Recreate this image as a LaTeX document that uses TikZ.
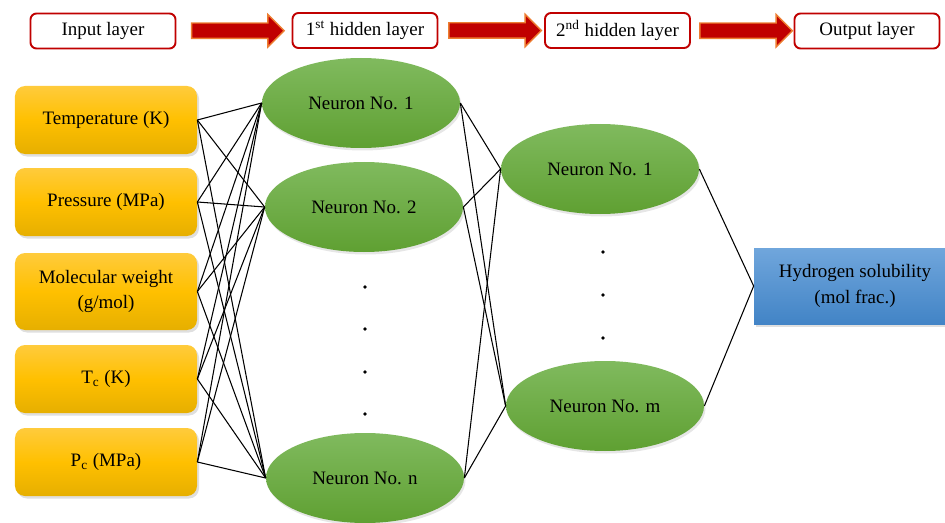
\documentclass[tikz,border=0pt]{standalone}
\usepackage{fontspec}
\setmainfont{Liberation Serif}
\usepackage{xcolor}
\usepackage{tikz}
\usetikzlibrary{positioning, shapes.geometric, shapes.arrows, shadows}
\definecolor{hdRed}{RGB}{192, 0, 0}
\definecolor{hdOrange}{RGB}{237, 125, 49}
\definecolor{inTop}{RGB}{255, 203, 60}
\definecolor{inMid}{RGB}{255, 192, 0}
\definecolor{inBot}{RGB}{230, 175, 0}
\definecolor{nrTop}{RGB}{128, 186, 94}
\definecolor{nrBot}{RGB}{95, 160, 50}
\definecolor{outTop}{RGB}{112, 166, 220}
\definecolor{outBot}{RGB}{66, 132, 198}
\tikzset{
    base/.style={
        font=\fontsize{10.8}{12.5}\selectfont,
        align=center,
        text=black
    },
    header/.style={
        base,
        rectangle,
        rounded corners=1.2mm,
        draw=hdRed,
        line width=1.1pt,
        fill=white,
        minimum width=2.9cm,
        minimum height=0.7cm,
        inner sep=1pt
    },
    blockarrow/.style={
        single arrow,
        draw=hdOrange,
        fill=hdRed,
        line width=0.8pt,
        minimum height=1.85cm,
        minimum width=0.64cm,
        single arrow head extend=0.17cm,
        inner xsep=0pt,
        inner ysep=0.14cm
    },
    inbox/.style={
        base,
        rectangle,
        rounded corners=2mm,
        top color=inTop,
        bottom color=inBot,
        middle color=inMid,
        minimum width=3.64cm,
        minimum height=1.36cm,
        drop shadow={opacity=0.25, shadow xshift=0.4mm, shadow yshift=-0.5mm}
    },
    neuron/.style={
        base,
        ellipse,
        top color=nrTop,
        bottom color=nrBot,
        minimum width=3.96cm,
        minimum height=1.8cm,
        drop shadow={opacity=0.2, shadow xshift=0.3mm, shadow yshift=-0.5mm}
    },
    outbox/.style={
        base,
        rectangle,
        top color=outTop,
        bottom color=outBot,
        minimum width=4.04cm,
        minimum height=1.52cm,
        drop shadow={opacity=0.25, shadow xshift=0.4mm, shadow yshift=-0.5mm}
    },
    link/.style={
        draw=black,
        line width=0.6pt
    },
    dotmark/.style={
        circle,
        fill=black,
        inner sep=0pt,
        minimum size=2.2pt
    }
}

\begin{document}
\begin{tikzpicture}
    \useasboundingbox (0,0) rectangle (18.9,10.44);

    % Layer headers
    \node[header] (inlay) at (2.06, 9.82) {Input layer};
    \node[header] (hidA) at (7.30, 9.83) {1\textsuperscript{st} hidden layer};
    \node[header] (hidB) at (12.35, 9.83) {2\textsuperscript{nd} hidden layer};
    \node[header] (outlay) at (17.34, 9.82) {Output layer};
    \path (inlay) -- node[blockarrow] (arrA) {} (hidA);
    \path (hidA) -- node[blockarrow] (arrB) {} (hidB);
    \path (hidB) -- node[blockarrow] (arrC) {} (outlay);

    % Inputs
    \node[inbox] (temp) at (2.12, 8.04) {Temperature (K)};
    \node[inbox] (pres) at (2.12, 6.40) {Pressure (MPa)};
    \node[inbox, minimum height=1.54cm] (molw) at (2.12, 4.61) {Molecular weight\\[2pt](g/mol)};
    \node[inbox] (crt) at (2.12, 2.86) {T\textsubscript{c} (K)};
    \node[inbox] (crp) at (2.12, 1.20) {P\textsubscript{c} (MPa)};

    % First hidden layer
    \node[neuron] (ha) at (7.22, 8.38) {Neuron No. 1};
    \node[neuron] (hb) at (7.28, 6.30) {Neuron No. 2};
    \node[neuron] (hn) at (7.30, 0.88) {Neuron No. n};
    \foreach \y [count=\k] in {4.70, 3.86, 3.00, 2.16}
        \node[dotmark] (da\k) at (7.30, \y) {};

    % Second hidden layer
    \node[neuron] (ga) at (12.00, 7.06) {Neuron No. 1};
    \node[neuron] (gm) at (12.10, 2.32) {Neuron No. m};
    \foreach \y [count=\k] in {5.40, 4.54, 3.68}
        \node[dotmark] (db\k) at (12.06, \y) {};

    % Output
    \node[outbox] (sol) at (17.10, 4.72) {Hydrogen solubility\\[2pt](mol frac.)};

    % Connections
    \foreach \i in {temp, pres, molw, crt, crp} {
        \foreach \j in {ha, hb, hn} {
            \draw[link] (\i.east) -- (\j.west);
        }
    }
    \foreach \i in {ha, hb, hn} {
        \foreach \j in {ga, gm} {
            \draw[link] (\i.east) -- (\j.west);
        }
    }
    \draw[link] (ga.east) -- (sol.west);
    \draw[link] (gm.east) -- (sol.west);

\end{tikzpicture}
\end{document}
